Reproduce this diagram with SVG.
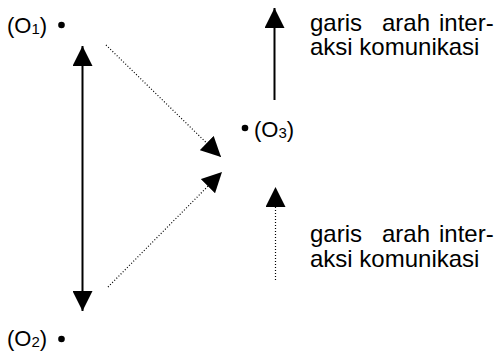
<svg xmlns="http://www.w3.org/2000/svg" width="504" height="354" viewBox="0 0 504 354">
  <style>
    text { font-family: "Liberation Sans", Arial, sans-serif; fill: #000; }
    .lbl { font-size: 22px; }
    .sub { font-size: 15px; }
    .note { font-size: 24px; }
    .solid { stroke: #000; stroke-width: 2; fill: none; }
    .dotted { stroke: #000; stroke-width: 1.2; stroke-dasharray: 1 2; fill: none; }
    .dot { fill: #000; }
  </style>
  <defs>
    <marker id="head" viewBox="0 0 20 20" refX="20" refY="10" markerWidth="20" markerHeight="20" markerUnits="userSpaceOnUse" orient="auto-start-reverse">
      <path d="M0,0 L20,10 L0,20 Z" fill="#000"/>
    </marker>
  </defs>

  <g id="o1">
    <text class="lbl" x="7" y="33">(O<tspan class="sub" dy="1">1</tspan><tspan dy="-1">)</tspan></text>
    <circle class="dot" cx="61.5" cy="25" r="3.3"/>
  </g>
  <g id="o2">
    <text class="lbl" x="7" y="346">(O<tspan class="sub" dy="1">2</tspan><tspan dy="-1">)</tspan></text>
    <circle class="dot" cx="61.5" cy="339" r="3.3"/>
  </g>
  <g id="o3">
    <circle class="dot" cx="245" cy="128" r="3.3"/>
    <text class="lbl" x="254" y="137">(O<tspan class="sub" dy="1">3</tspan><tspan dy="-1">)</tspan></text>
  </g>

  <g id="connectors">
    <!-- two-way link between O1 and O2 -->
    <line class="solid" x1="82.5" y1="46" x2="82.5" y2="311" marker-start="url(#head)" marker-end="url(#head)"/>
    <!-- O1 and O2 towards O3 -->
    <line class="dotted" x1="106" y1="45" x2="221" y2="157" marker-end="url(#head)"/>
    <line class="dotted" x1="108" y1="287" x2="222" y2="172" marker-end="url(#head)"/>
  </g>

  <g id="legend-solid">
    <line class="solid" x1="274.5" y1="100" x2="274.5" y2="8" marker-end="url(#head)"/>
    <text class="note" y="30.5"><tspan x="310">garis</tspan><tspan x="382">arah</tspan><tspan x="439">inter-</tspan></text>
    <text class="note" x="310" y="55">aksi komunikasi</text>
  </g>
  <g id="legend-dotted">
    <line class="dotted" x1="275.5" y1="280" x2="275.5" y2="187" marker-end="url(#head)"/>
    <text class="note" y="242"><tspan x="310">garis</tspan><tspan x="382">arah</tspan><tspan x="439">inter-</tspan></text>
    <text class="note" x="310" y="266.5">aksi komunikasi</text>
  </g>
</svg>
